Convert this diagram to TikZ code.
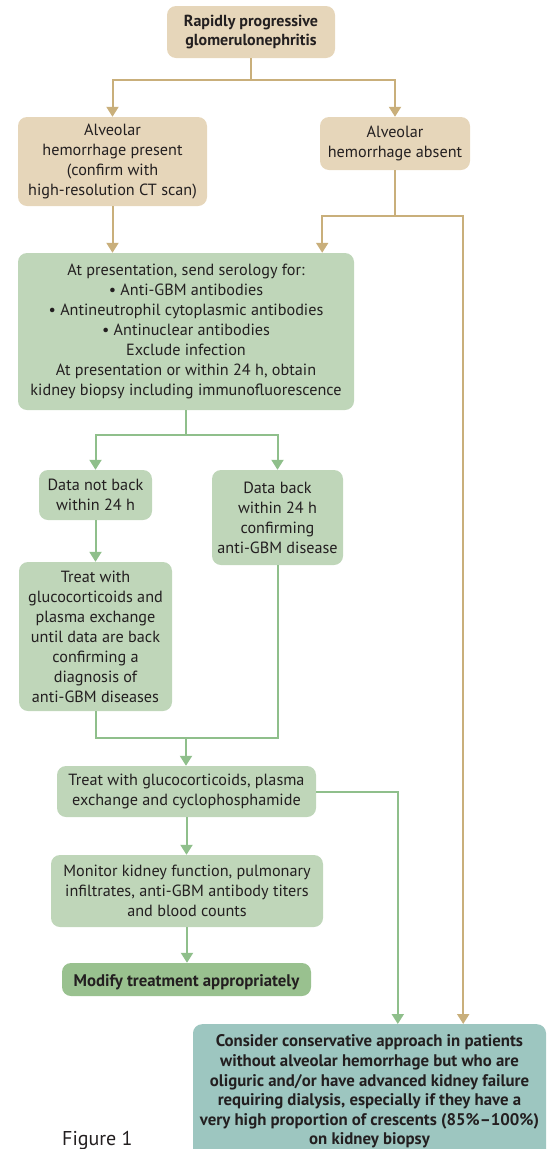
\documentclass[tikz,border=0pt]{standalone}
\usepackage{fontspec}
\setmainfont{PT Sans}
\usetikzlibrary{arrows.meta,calc}
\definecolor{beige}{HTML}{E6D6BA}
\definecolor{beigeline}{HTML}{C9AF7B}
\definecolor{greenbox}{HTML}{BFD6B9}
\definecolor{greenline}{HTML}{8FBF8B}
\definecolor{darkgreen}{HTML}{99C18F}
\definecolor{tealbox}{HTML}{9DC6C0}
\definecolor{txt}{HTML}{231F20}
\begin{document}
\begin{tikzpicture}[x=1pt,y=-1pt,
  box/.style={rounded corners=9pt, align=center, inner sep=0pt, text=txt,
    font=\fontsize{16.2}{20}\selectfont,
    execute at begin node={\rule{0pt}{18pt}}},
  bbox/.style={box, fill=beige},
  gbox/.style={box, fill=greenbox},
  bline/.style={draw=beigeline, line width=2pt},
  gline/.style={draw=greenline, line width=2pt},
  arr/.style={-{Triangle[width=12pt,length=10pt]}}]
\useasboundingbox (0,0) rectangle (552,1149);
% nodes
\node[bbox, font=\fontsize{16}{19}\selectfont\bfseries, minimum width=168pt, minimum height=52pt] (top) at (251,32)
  {Rapidly progressive\\glomerulonephritis};
\node[bbox, minimum width=189pt, minimum height=89pt] (lbeige) at (112.5,161.5)
  {Alveolar\\hemorrhage present\\(confirm with\\high-resolution CT scan)};
\node[bbox, minimum width=150pt, minimum height=53pt] (rbeige) at (395,143.5)
  {Alveolar\\hemorrhage absent};
\node[gbox, minimum width=336pt, minimum height=157pt] (serol) at (186,331.5)
  {At presentation, send serology for:\\
   • Anti-GBM antibodies\\
   • Antineutrophil cytoplasmic antibodies\\
   • Antinuclear antibodies\\
   Exclude infection\\
   At presentation or within 24 h, obtain\\
   kidney biopsy including immunofluorescence};
\node[gbox, minimum width=113pt, minimum height=50pt] (notback) at (95.5,495)
  {Data not back\\within 24 h};
\node[gbox, minimum width=131pt, minimum height=95pt] (back) at (277.5,517.5)
  {Data back\\within 24 h\\confirming\\anti-GBM disease};
\node[gbox, minimum width=153pt, minimum height=149pt] (treat1) at (95.5,636.5)
  {Treat with\\glucocorticoids and\\plasma exchange\\until data are back\\confirming a\\diagnosis of\\anti-GBM diseases};
\node[gbox, minimum width=259pt, minimum height=51pt] (treat2) at (186.5,791.5)
  {Treat with glucocorticoids, plasma\\exchange and cyclophosphamide};
\node[gbox, minimum width=272pt, minimum height=72pt] (monitor) at (187,891)
  {Monitor kidney function, pulmonary\\infiltrates, anti-GBM antibody titers\\and blood counts};
\node[box, fill=darkgreen, font=\fontsize{16.8}{20}\selectfont\bfseries, minimum width=249pt, minimum height=33pt] (modify) at (186.5,979.5)
  {Modify treatment appropriately};
\node[box, fill=tealbox, font=\fontsize{16.8}{19.6}\selectfont\bfseries, anchor=north, minimum width=353pt, minimum height=135pt] (teal) at (369.5,1024)
  {Consider conservative approach in patients\\
   without alveolar hemorrhage but who are\\
   oliguric and/or have advanced kidney failure\\
   requiring dialysis, especially if they have a\\
   very high proportion of crescents (85\%–100\%)\\
   on kidney biopsy};
\node[anchor=base west, text=txt, font=\fontsize{20}{24}\selectfont, inner sep=0pt] (fig) at (62,1145) {Figure 1};
% beige connectors
\coordinate (s1) at (251,80);
\draw[bline] (top.south) -- (s1);
\draw[bline,arr] (s1) -| (lbeige.north);
\draw[bline,arr] (s1) -| (rbeige.north);
\draw[bline,arr] (lbeige.south) -- (lbeige.south |- serol.north);
\coordinate (s2) at (395,216);
\coordinate (serolin) at ($(serol.north east)+(-32,0)$);
\coordinate (tealin2) at ($(teal.north east)+(-83,0)$);
\draw[bline] (rbeige.south) -- (s2);
\draw[bline,arr] (s2) -| (serolin);
\draw[bline,arr] (s2) -| (tealin2);
% green connectors
\coordinate (s3) at (186,435);
\draw[gline] (serol.south) -- (s3);
\draw[gline,arr] (s3) -| (notback.north);
\draw[gline,arr] (s3) -| (back.north);
\draw[gline,arr] (notback.south) -- (treat1.north);
\coordinate (s4) at (186,738);
\draw[gline] (treat1.south) |- (s4);
\draw[gline] (back.south) |- (s4);
\draw[gline,arr] (s4) -- (s4 |- treat2.north);
\coordinate (tealin1) at ($(teal.north west)+(205,0)$);
\draw[gline,arr] (treat2.east) -| (tealin1);
\draw[gline,arr] (treat2.south) -- (treat2.south |- monitor.north);
\draw[gline,arr] (monitor.south) -- (monitor.south |- modify.north);
\end{tikzpicture}
\end{document}
